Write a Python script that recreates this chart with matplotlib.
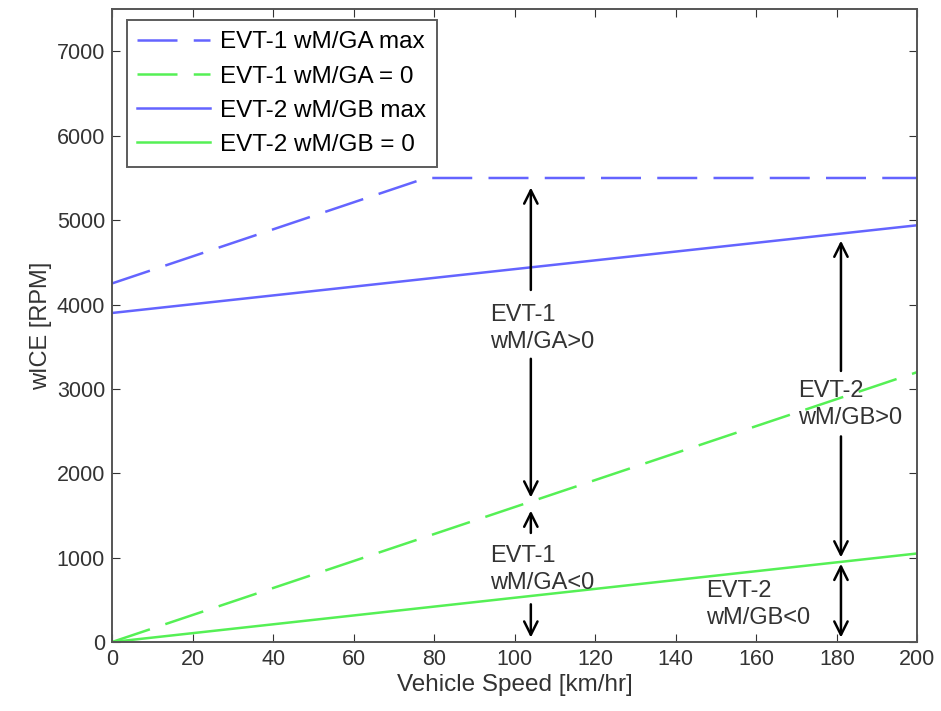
import matplotlib
matplotlib.use('Agg')
import matplotlib.pyplot as plt
import numpy as np

plt.rcParams['font.family'] = ['Liberation Sans', 'DejaVu Sans']

# vehicle speed breakpoints [km/hr] and engine speed [RPM]
speed_ga_max = [0, 78, 200]
wice_ga_max = [4250, 5500, 5500]
speed_line = [0, 200]
wice_ga_zero = [0, 3200]
wice_gb_max = [3900, 4940]
wice_gb_zero = [0, 1050]

labels = ['EVT-1 wM/GA max', 'EVT-1 wM/GA = 0', 'EVT-2 wM/GB max', 'EVT-2 wM/GB = 0']

blue = '#6464ff'
green = '#55f055'
txt = '#333333'

fig = plt.figure(figsize=(9.41, 7.11), dpi=100)
ax = fig.add_axes([0.119, 0.097, 0.856, 0.89])

ax.plot(speed_ga_max, wice_ga_max, color=blue, lw=1.8, dashes=(16, 6.5), label=labels[0])
ax.plot(speed_line, wice_ga_zero, color=green, lw=1.8, dashes=(16, 6.5), label=labels[1])
ax.plot(speed_line, wice_gb_max, color=blue, lw=1.8, label=labels[2])
ax.plot(speed_line, wice_gb_zero, color=green, lw=1.8, label=labels[3])

ax.set_xlim(0, 200)
ax.set_ylim(0, 7500)
ax.set_xticks(np.arange(0, 201, 20))
ax.set_yticks(np.arange(0, 7001, 1000))
ax.tick_params(direction='in', length=6, labelsize=15.5, colors=txt, top=True, right=True, pad=5)
for s in ax.spines.values():
    s.set_color('#555555')
    s.set_linewidth(1.4)
ax.set_xlabel('Vehicle Speed [km/hr]', fontsize=17.5, color=txt, labelpad=3)
ax.set_ylabel('wICE [RPM]', fontsize=17, color=txt, labelpad=3)

leg = ax.legend(loc='upper left', fontsize=17.5, frameon=True, fancybox=False,
                handlelength=3.0, handletextpad=0.4, borderpad=0.45, labelspacing=0.5,
                bbox_to_anchor=(0.012, 0.99), borderaxespad=0.2)
leg.get_frame().set_edgecolor('#333333')
leg.get_frame().set_linewidth(1.4)

arr = dict(arrowstyle='->', color='black', lw=1.8, mutation_scale=24)

def annot(text, y, tx):
    ax.text(tx, y, text, fontsize=17, color=txt, va='center', ha='left', linespacing=1.3)

# EVT-1 region arrows
ax.annotate('', xy=(104, 5420), xytext=(104, 4140), arrowprops=arr)
ax.annotate('', xy=(104, 1680), xytext=(104, 3390), arrowprops=arr)
annot('EVT-1\nwM/GA>0', 3720, 93.8)
ax.annotate('', xy=(104, 1590), xytext=(104, 1260), arrowprops=arr)
ax.annotate('', xy=(104, 20), xytext=(104, 480), arrowprops=arr)
annot('EVT-1\nwM/GA<0', 860, 93.8)

# EVT-2 region arrows
ax.annotate('', xy=(181, 4790), xytext=(181, 3180), arrowprops=arr)
ax.annotate('', xy=(181, 970), xytext=(181, 2470), arrowprops=arr)
annot('EVT-2\nwM/GB>0', 2820, 170.4)
ax.annotate('', xy=(181, 20), xytext=(181, 960),
            arrowprops=dict(arrowstyle='<->', color='black', lw=1.8, mutation_scale=24))
annot('EVT-2\nwM/GB<0', 440, 147.6)

fig.savefig('out.png', dpi=100, facecolor='white')
